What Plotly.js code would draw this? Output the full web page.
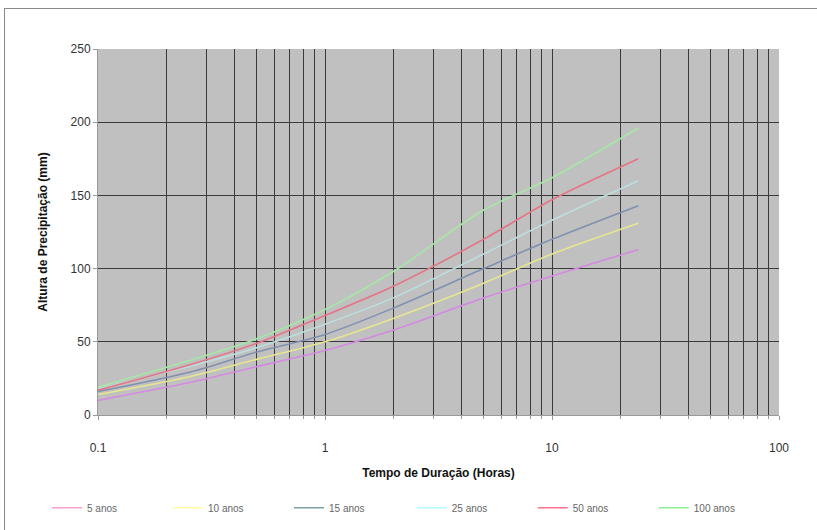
<!DOCTYPE html>
<html>
<head>
<meta charset="utf-8">
<script src="https://cdn.plot.ly/plotly-3.0.1.min.js"></script>
<style>
  html, body { margin: 0; padding: 0; background: #fff; }
  #frame { position: absolute; left: 4px; top: 8px; width: 830px; height: 540px;
           border-left: 1px solid #8a8a8a; border-top: 1px solid #8a8a8a; }
  #chart { position: absolute; left: 0; top: 0; width: 817px; height: 530px; }
</style>
</head>
<body>
<div id="frame"></div>
<div id="chart"></div>
<script>
// Duração (horas)
const durations = [0.1, 0.25, 0.5, 1, 2, 5, 10, 24];
// Altura de precipitação (mm) por período de retorno
const seriesNames = ["5 anos", "10 anos", "15 anos", "25 anos", "50 anos", "100 anos"];
const anos5   = [10, 22, 33, 44, 58, 80, 95, 113];
const anos10  = [14, 26, 38, 50, 66, 90, 110, 131];
const anos15  = [16, 29, 43, 55, 73, 100, 120, 143];
const anos25  = [18, 33, 46, 62, 80, 110, 133, 160];
const anos50  = [17, 34, 49, 68, 88, 120, 147, 175];
const anos100 = [19, 37, 52, 72, 98, 140, 162, 196];

const seriesValues = [anos5, anos10, anos15, anos25, anos50, anos100];
const lineColors = ["#d48ae0", "#e6e690", "#8290b0", "#bcdede", "#e67488", "#a6e6a6"];
const legendColors = ["#ff9fd0", "#ffff9f", "#80a0a0", "#b0ffff", "#ff7090", "#90f090"];

const traces = seriesNames.map((name, i) => ({
  x: durations,
  y: seriesValues[i],
  name: name,
  type: "scatter",
  mode: "lines",
  legend: i < 3 ? "legend" : "legend2",
  line: { color: lineColors[i], width: 1.6, shape: "spline", smoothing: 0.8 }
}));

const legendBase = {
  orientation: "h",
  xref: "container", yref: "container",
  y: 0.042,
  xanchor: "left", yanchor: "middle",
  font: { size: 10, color: "#666" },
  itemwidth: 30,
  entrywidth: 76,
  entrywidthmode: "pixels",
  bgcolor: "rgba(0,0,0,0)"
};

const layout = {
  width: 817,
  height: 530,
  paper_bgcolor: "rgba(0,0,0,0)",
  plot_bgcolor: "#c0c0c0",
  margin: { l: 98, r: 38, t: 49, b: 115 },
  font: { family: "Liberation Sans, Arial, sans-serif", size: 12, color: "#222" },
  showlegend: true,
  legend: Object.assign({}, legendBase, { x: 0.0575 }),
  legend2: Object.assign({}, legendBase, { x: 0.504 }),
  xaxis: {
    type: "log",
    range: [-1, 2],
    dtick: 1,
    automargin: false,
    showgrid: true,
    gridcolor: "#3a3a3a",
    gridwidth: 1,
    minor: { dtick: "D1", showgrid: true, gridcolor: "#3a3a3a", gridwidth: 1, ticks: "outside", ticklen: 3, tickcolor: "#999" },
    ticks: "outside",
    ticklen: 4,
    tickcolor: "#999",
    ticklabelstandoff: 18,
    showline: true,
    linecolor: "#999",
    zeroline: false,
    tickfont: { size: 12, color: "#333" },
    title: { text: "Tempo de Duração (Horas)", font: { size: 12, color: "#111", weight: "bold" }, standoff: 14 }
  },
  yaxis: {
    range: [0, 250],
    dtick: 50,
    automargin: false,
    showgrid: true,
    gridcolor: "#3a3a3a",
    gridwidth: 1,
    ticks: "outside",
    ticklen: 4,
    tickcolor: "#999",
    showline: true,
    linecolor: "#999",
    zeroline: false,
    tickfont: { size: 12, color: "#333" },
    title: { text: "Altura de Precipitação (mm)", font: { size: 12, color: "#111", weight: "bold" }, standoff: 20 }
  }
};

Plotly.newPlot("chart", traces, layout, { displayModeBar: false, staticPlot: true }).then(() => {
  // legend swatches use the lighter legend colours
  const groups = [document.querySelectorAll("#chart g.legend .traces"),
                  document.querySelectorAll("#chart g.legend2 .traces")];
  let k = 0;
  groups.forEach(list => list.forEach(g => {
    const p = g.querySelector("path.js-line");
    if (p && k < legendColors.length) { p.style.stroke = legendColors[k]; }
    k++;
  }));
});
</script>
</body>
</html>
